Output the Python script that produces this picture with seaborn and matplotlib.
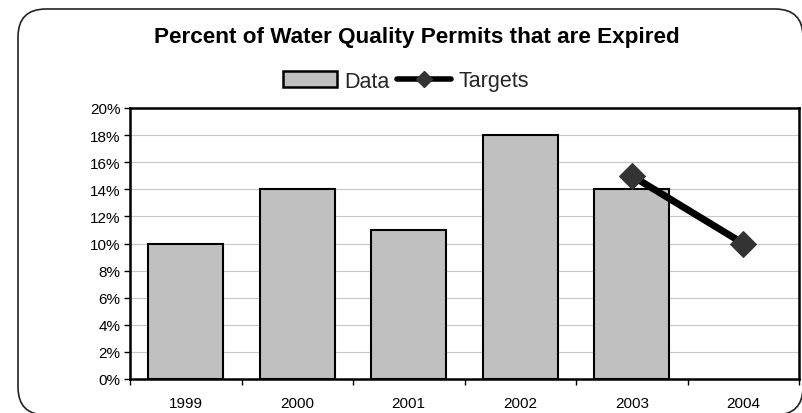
import matplotlib
matplotlib.use("Agg")
import matplotlib.pyplot as plt
import seaborn as sns
import pandas as pd
import numpy as np
from matplotlib.patches import FancyBboxPatch, Patch
from matplotlib.lines import Line2D

# Chart data
years = ["1999", "2000", "2001", "2002", "2003", "2004"]
data_years = ["1999", "2000", "2001", "2002", "2003"]
data_values = [10, 14, 11, 18, 14]
target_years = ["2003", "2004"]
target_values = [15, 10]
y_ticks = [0, 2, 4, 6, 8, 10, 12, 14, 16, 18, 20]
title = "Percent of Water Quality Permits that are Expired"

sns.set_theme(style="white")
plt.rcParams["font.family"] = ["Liberation Sans", "DejaVu Sans"]

W, H = 802, 414
fig = plt.figure(figsize=(W / 100, H / 100), dpi=100)
fig.patch.set_facecolor("white")

# Rounded frame around the whole chart
frame = FancyBboxPatch((0.18, -0.02), 7.85, 4.06,
                       boxstyle="round,pad=0,rounding_size=0.28",
                       transform=fig.dpi_scale_trans, facecolor="none",
                       edgecolor="#222222", linewidth=1.2, clip_on=False, zorder=0)
fig.add_artist(frame)

ax = fig.add_axes([130 / W, 34 / H, 669 / W, 271 / H])

bars = pd.DataFrame({"year": data_years, "value": data_values})
sns.barplot(data=bars, x="year", y="value", order=years, color="#C0C0C0",
            saturation=1, edgecolor="black", linewidth=1.5, width=0.67,
            ax=ax, zorder=2)

targets = pd.DataFrame({"pos": [years.index(y) for y in target_years],
                        "value": target_values})
sns.lineplot(data=targets, x="pos", y="value", color="black", linewidth=5,
             marker="D", markersize=13.5, markerfacecolor="#333333",
             markeredgecolor="#333333", ax=ax, zorder=3)

ax.set_xlim(-0.5, len(years) - 0.5)
ax.set_ylim(0, 20)
ax.set_yticks(y_ticks)
ax.set_yticklabels([f"{v}%" for v in y_ticks], fontsize=11, color="black")
ax.set_xticks(range(len(years)))
ax.set_xticklabels(years, fontsize=11, color="black")
ax.set_xticks(np.arange(len(years) + 1) - 0.5, minor=True)
ax.tick_params(axis="x", which="major", length=0, pad=12)
ax.tick_params(axis="x", which="minor", length=4, width=1, color="black",
               direction="out", bottom=True)
ax.tick_params(axis="y", length=4, width=1, color="black", direction="out",
               left=True, pad=3)
ax.set_xlabel("")
ax.set_ylabel("")
ax.yaxis.grid(True, color="#C8C8C8", linewidth=0.8)
ax.set_axisbelow(True)
for s in ax.spines.values():
    s.set_color("black")
    s.set_linewidth(1.8)

fig.text(417 / W, 1 - 38 / H, title, ha="center", va="center",
         fontsize=16.2, fontweight="bold", color="black")

handles = [Patch(facecolor="#C0C0C0", edgecolor="black", linewidth=1.8),
           Line2D([0], [0], color="black", linewidth=4, marker="D",
                  markersize=8, markerfacecolor="#333333",
                  markeredgecolor="#333333")]
fig.legend(handles, ["Data", "Targets"], loc="center",
           bbox_to_anchor=(406 / W, 1 - 82 / H), ncol=2, frameon=False,
           fontsize=15.5, handlelength=2.5, handletextpad=0.35,
           columnspacing=0.35, borderpad=0, numpoints=1)

fig.savefig("out.png", dpi=100)
